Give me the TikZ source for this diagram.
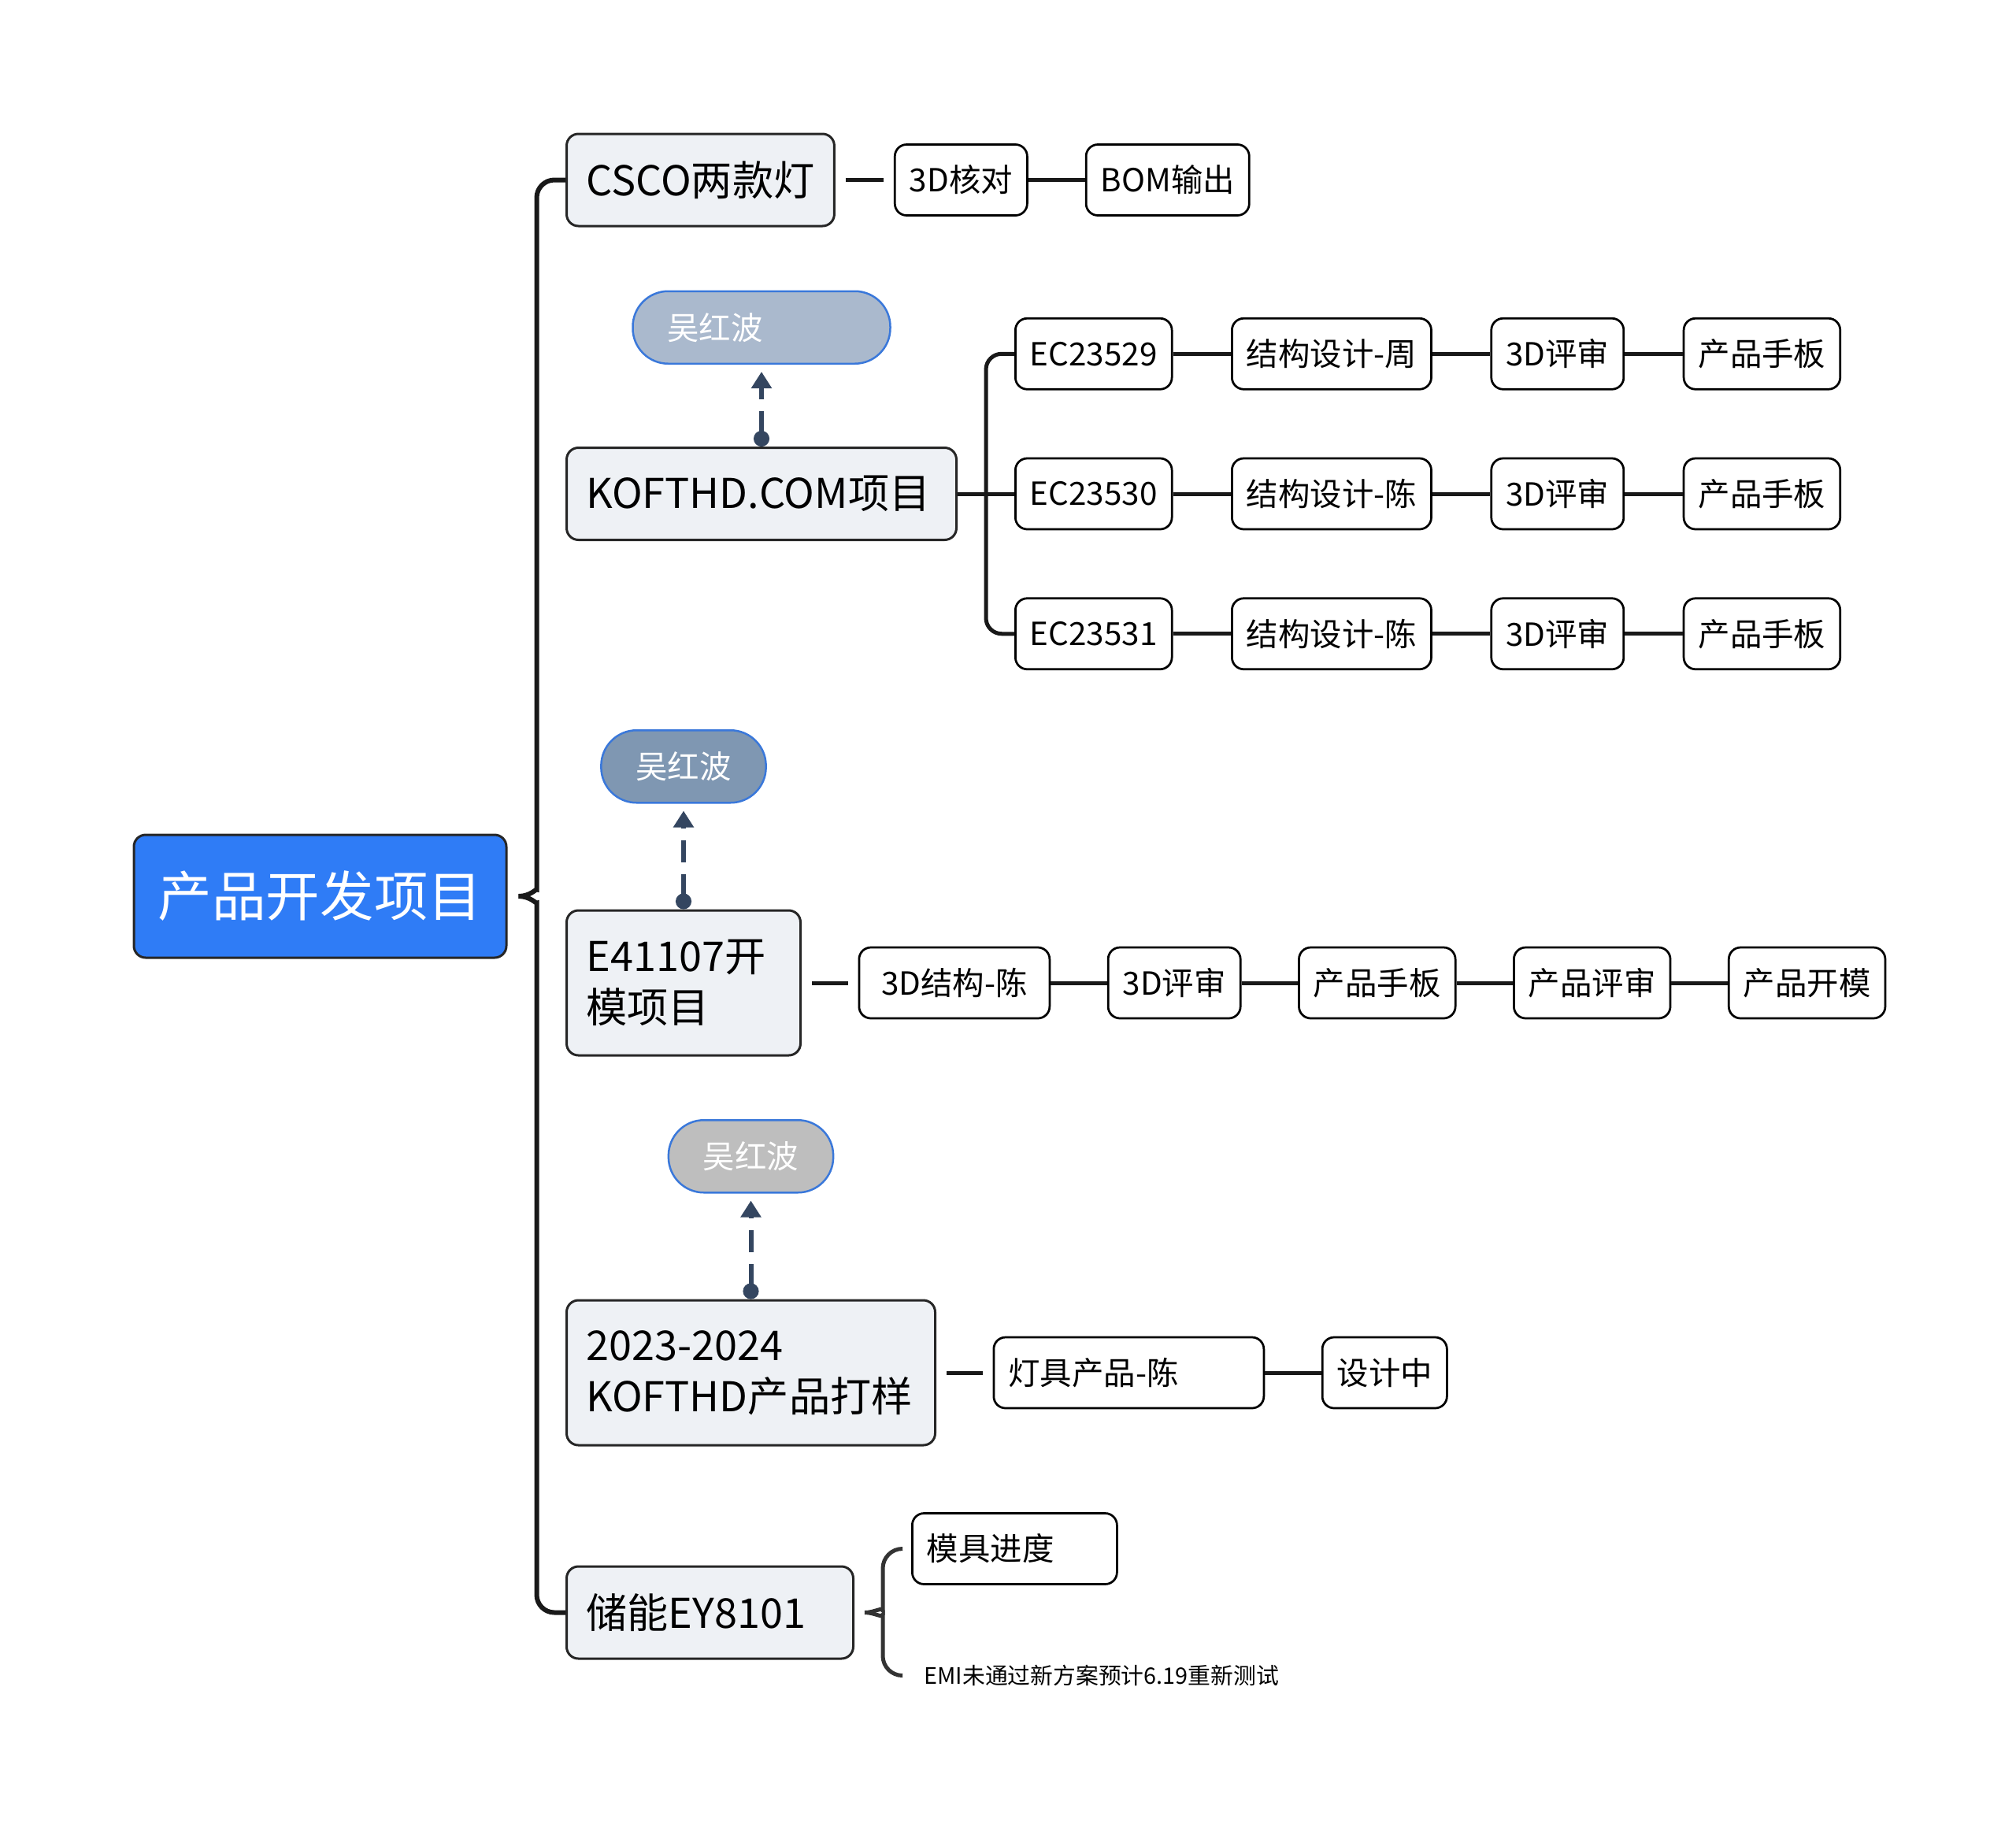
\documentclass[tikz,border=0pt]{standalone}
\usepackage{fontspec}
\setmainfont{Noto Sans CJK SC}
\usepackage{xcolor}
\usepackage{tikz}
\usetikzlibrary{shapes.geometric, arrows.meta, positioning}

\definecolor{rootblue}{RGB}{47,124,246}
\definecolor{topicgray}{RGB}{238,241,245}
\definecolor{tagone}{RGB}{170,185,205}
\definecolor{tagtwo}{RGB}{127,151,178}
\definecolor{tagthree}{RGB}{190,190,190}
\definecolor{tagedge}{RGB}{58,120,218}
\definecolor{slate}{RGB}{52,70,96}

\begin{document}
\begin{tikzpicture}[node distance=1.43cm, >=Stealth]
    \tikzstyle{mainnode} = [rectangle, rounded corners=0.3cm, draw=black!85, line width=0.06cm, fill=rootblue, text=white, minimum width=9.46cm, minimum height=3.12cm, font=\fontsize{39}{47}\selectfont]
    \tikzstyle{topicbox} = [rectangle, rounded corners=0.3cm, draw=black!85, line width=0.06cm, fill=topicgray, inner xsep=0.5cm, minimum height=2.34cm, align=left, font=\fontsize{29.7}{37}\selectfont]
    \tikzstyle{subbox} = [rectangle, rounded corners=0.3cm, draw=black, line width=0.055cm, fill=white, inner xsep=0.37cm, minimum height=1.8cm, font=\fontsize{23}{28}\selectfont]
    \tikzstyle{tagbox} = [rectangle, rounded corners=0.9cm, draw=tagedge, line width=0.05cm, text=white, inner xsep=0.88cm, minimum height=1.84cm, font=\fontsize{23}{28}\selectfont]
    \tikzstyle{notetext} = [inner sep=0pt, font=\fontsize{16.4}{20}\selectfont]
    \tikzstyle{link} = [line width=0.1cm, black!90]
    \tikzstyle{bracelink} = [line width=0.12cm, black!90, rounded corners=0.45cm]
    \tikzstyle{tagarrow} = [line width=0.12cm, slate, dash pattern=on 0.56cm off 0.3cm, {Circle[length=0.4cm]}-{Triangle[length=0.42cm, width=0.5cm]}, shorten >=0.18cm]

    \useasboundingbox (0,0) rectangle (51.2,-46.58);

    % Root and first-level topics
    \node (root) [mainnode] at (8.13,-22.76) {产品开发项目};
    \node (csco) [topicbox, anchor=west] at (14.36,-4.57) {CSCO两款灯};
    \node (kofthd) [topicbox, anchor=west, text width=8.9cm] at (14.36,-12.54) {KOFTHD.COM项目};
    \node (e41107) [topicbox, anchor=west, minimum height=3.68cm, text width=4.94cm] at (14.36,-24.96) {E41107开\\模项目};
    \node (sample) [topicbox, anchor=west, minimum height=3.68cm, text width=8.36cm] at (14.36,-34.86) {2023-2024\\KOFTHD产品打样};
    \node (storage) [topicbox, anchor=west, text width=6.28cm] at (14.36,-40.95) {储能EY8101};

    % Owner tags above the topics
    \node (wu1) [tagbox, fill=tagone, above=2.08cm of kofthd, text width=4.78cm, align=left] {吴红波};
    \node (wu2) [tagbox, fill=tagtwo, above=2.68cm of e41107] {吴红波};
    \node (wu3) [tagbox, fill=tagthree, above=2.68cm of sample] {吴红波};

    % Second-level chains
    \node (hedui) [subbox, right=1.48cm of csco] {3D核对};
    \node (bom) [subbox, right=1.44cm of hedui] {BOM输出};

    \node (ec30) [subbox, right=1.44cm of kofthd] {EC23530};
    \node (ec29) [subbox, above=1.7cm of ec30] {EC23529};
    \node (ec31) [subbox, below=1.7cm of ec30] {EC23531};
    \node (jg29) [subbox, right=1.47cm of ec29] {结构设计-周};
    \node (jg30) [subbox, right=1.47cm of ec30] {结构设计-陈};
    \node (jg31) [subbox, right=1.47cm of ec31] {结构设计-陈};
    \foreach \r in {29,30,31} {
        \node (ps\r) [subbox, right=1.47cm of jg\r] {3D评审};
        \node (sb\r) [subbox, right=1.47cm of ps\r] {产品手板};
    }

    \node (jg41) [subbox, right=of e41107, minimum width=4.84cm] {3D结构-陈};
    \node (ps41) [subbox, right=of jg41] {3D评审};
    \node (sb41) [subbox, right=of ps41] {产品手板};
    \node (pr41) [subbox, right=of sb41] {产品评审};
    \node (km41) [subbox, right=of pr41] {产品开模};

    \node (lamp) [subbox, right=of sample, text width=6.12cm, align=left] {灯具产品-陈};
    \node (design) [subbox, right=of lamp] {设计中};

    \node (mold) [subbox, anchor=west, text width=4.46cm, align=left] at ([xshift=1.44cm, yshift=1.62cm]storage.east) {模具进度};
    \node (emi) [notetext, anchor=west] at ([xshift=1.76cm, yshift=-1.6cm]storage.east) {EMI未通过新方案预计6.19重新测试};

    % Main brace from the root
    \coordinate[right=0.28cm of root.east] (tip);
    \coordinate[right=0.74cm of root.east] (trunk);
    \draw[bracelink] (csco.west) -| ([yshift=0.62cm]trunk) [sharp corners] .. controls ([yshift=0.2cm]trunk) and ([xshift=0.3cm]tip) .. (tip);
    \draw[bracelink] (storage.west) -| ([yshift=-0.62cm]trunk) [sharp corners] .. controls ([yshift=-0.2cm]trunk) and ([xshift=0.3cm]tip) .. (tip);

    % Connections
    \draw[link, shorten <=0.26cm, shorten >=0.26cm] (csco) -- (hedui);
    \draw[link] (hedui) -- (bom);

    \coordinate[right=0.72cm of kofthd.east] (kjoin);
    \draw[link] (kofthd) -- (ec30);
    \draw[link, rounded corners=0.4cm] (ec29.west) -| (kjoin) |- (ec31.west);
    \foreach \r in {29,30,31} {
        \draw[link] (ec\r) -- (jg\r);
        \draw[link] (jg\r) -- (ps\r);
        \draw[link] (ps\r) -- (sb\r);
    }

    \draw[link, shorten <=0.26cm, shorten >=0.26cm] (e41107) -- (jg41);
    \draw[link] (jg41) -- (ps41);
    \draw[link] (ps41) -- (sb41);
    \draw[link] (sb41) -- (pr41);
    \draw[link] (pr41) -- (km41);

    \draw[link, shorten <=0.26cm, shorten >=0.26cm] (sample) -- (lamp);
    \draw[link] (lamp) -- (design);

    % Small brace of the storage topic
    \coordinate[right=0.26cm of storage.east] (stip);
    \coordinate[right=0.72cm of storage.east] (strunk);
    \draw[bracelink, line width=0.1cm, black!80, rounded corners=0.5cm] ([xshift=-0.24cm]mold.west) -| ([yshift=0.55cm]strunk) [sharp corners] .. controls ([yshift=0.15cm]strunk) and ([xshift=0.25cm]stip) .. (stip);
    \draw[bracelink, line width=0.1cm, black!80, rounded corners=0.5cm] ([xshift=-0.56cm]emi.west) -| ([yshift=-0.55cm]strunk) [sharp corners] .. controls ([yshift=-0.15cm]strunk) and ([xshift=0.25cm]stip) .. (stip);

    % Owner links
    \draw[tagarrow] (kofthd) -- (wu1);
    \draw[tagarrow] (e41107) -- (wu2);
    \draw[tagarrow] (sample) -- (wu3);
\end{tikzpicture}
\end{document}
